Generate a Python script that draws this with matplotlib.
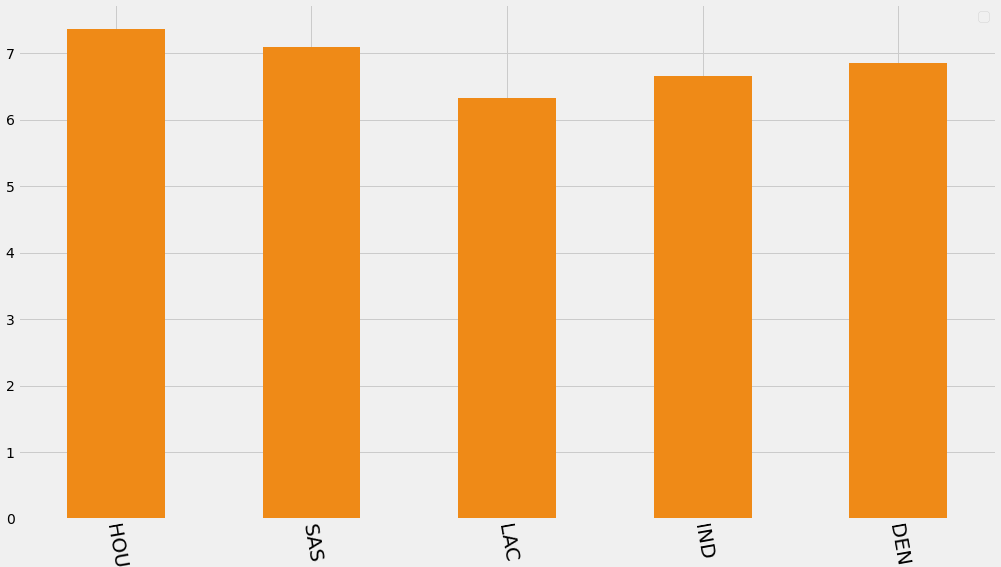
import matplotlib
matplotlib.use("Agg")
import matplotlib.pyplot as plt

teams = ["HOU", "SAS", "LAC", "IND", "DEN"]
values = [7.37, 7.09, 6.32, 6.65, 6.85]

plt.style.use("fivethirtyeight")
W, H, DPI = 1001, 567, 72
fig = plt.figure(figsize=(W / DPI, H / DPI), dpi=DPI)
ax = fig.add_axes([18 / W, (H - 519) / H, 978 / W, 515 / H])

x = range(len(teams))
ax.bar(x, values, width=0.5, color="#ef8a17")
ax.set_xlim(-0.5, len(teams) - 0.5)
ax.set_xticks(list(x))
ax.set_xticklabels(teams, rotation=-80, fontsize=20)
ax.set_yticks(range(8))
ax.legend()

fig.savefig("out.png", dpi=DPI, facecolor=fig.get_facecolor())
